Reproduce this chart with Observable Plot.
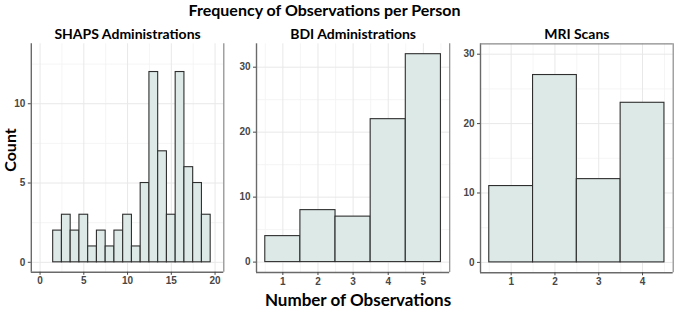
<!DOCTYPE html>
<html>
<head>
<meta charset="utf-8">
<script src="https://cdn.jsdelivr.net/npm/d3@7"></script>
<script src="https://cdn.jsdelivr.net/npm/@observablehq/plot@0.6"></script>
<style>
  body { margin: 0; background: #fff; }
  #chart { position: relative; width: 678px; height: 309px; overflow: hidden; background: #fff; }
  #chart svg { position: absolute; left: 0; top: 0; }
</style>
</head>
<body>
<div id="chart"></div>
<script>
// Number of observations per person (bin centre) and how many people had that many
const shapsObs   = [2, 3, 4, 5, 6, 7, 8, 9, 10, 11, 12, 13, 14, 15, 16, 17, 18, 19];
const shapsCount = [2, 3, 2, 3, 1, 2, 1, 2, 3, 1, 5, 12, 7, 3, 12, 6, 5, 3];

const bdiObs   = [1, 2, 3, 4, 5];
const bdiCount = [4, 8, 7, 22, 32];

const mriObs   = [1, 2, 3, 4];
const mriCount = [11, 27, 12, 23];

// Tick labels per panel
const shapsXTicks = [0, 5, 10, 15, 20];
const shapsYTicks = [0, 5, 10];
const bdiXTicks   = [1, 2, 3, 4, 5];
const bdiYTicks   = [0, 10, 20, 30];
const mriXTicks   = [1, 2, 3, 4];
const mriYTicks   = [0, 10, 20, 30];

const titles = {
  main: "Frequency of Observations per Person",
  shaps: "SHAPS Administrations",
  bdi: "BDI Administrations",
  mri: "MRI Scans",
  x: "Number of Observations",
  y: "Count"
};

const W = 678, H = 309;
const chart = document.getElementById("chart");

// Minor grid positions halfway between major ticks, kept inside the panel
function minorBetween(ticks, lo, hi) {
  const step = ticks[1] - ticks[0];
  const out = [];
  for (let v = ticks[0] - step / 2; v <= ticks[ticks.length - 1] + step / 2; v += step) {
    if (v > lo && v < hi) out.push(v);
  }
  return out;
}

function panel({obs, count, xDomain, yDomain, xTicks, yTicks, left, right, top, bottom, title, boxed}) {
  const data = obs.map((o, i) => ({obs: o, count: count[i]}));
  const axisStyle = {tickSize: 3, tickPadding: 2, fontSize: 10, fontWeight: "bold", fontFamily: "Liberation Sans", fill: "#474747", stroke: "#474747"};
  const marks = [
    Plot.gridY(minorBetween(yTicks, yDomain[0], yDomain[1]), {stroke: "#f2f2f2", strokeOpacity: 1, strokeWidth: 0.8}),
    Plot.gridX(minorBetween(xTicks, xDomain[0], xDomain[1]), {stroke: "#f2f2f2", strokeOpacity: 1, strokeWidth: 0.8}),
    Plot.gridY(yTicks, {stroke: "#e8e8e8", strokeOpacity: 1, strokeWidth: 1}),
    Plot.gridX(xTicks, {stroke: "#e8e8e8", strokeOpacity: 1, strokeWidth: 1}),
    Plot.rectY(data, {x1: d => d.obs - 0.5, x2: d => d.obs + 0.5, y: "count", fill: "#dce9e7", stroke: "#2e2e2e", strokeWidth: 1.1}),
    Plot.ruleX([xDomain[1]], {stroke: "#8a8a8a", strokeWidth: 1.2}),
    Plot.ruleX([xDomain[0]], {stroke: "#6a6a6a", strokeWidth: 1.4}),
    Plot.ruleY([yDomain[0]], {stroke: "#6a6a6a", strokeWidth: 1.4}),
    Plot.axisX(xTicks, {...axisStyle, anchor: "bottom", label: null}),
    Plot.axisY(yTicks, {...axisStyle, anchor: "left", label: null, tickPadding: 3}),
    Plot.text([title], {text: d => d, frameAnchor: "top", dy: -5, lineAnchor: "bottom", fontFamily: "Lato", fontWeight: "bold", fontSize: 14, fill: "#000"})
  ];
  if (boxed) marks.push(Plot.ruleY([yDomain[1]], {stroke: "#8a8a8a", strokeWidth: 1.2}));
  const svg = Plot.plot({
    width: W, height: H,
    marginLeft: left, marginRight: W - right, marginTop: top, marginBottom: H - bottom,
    style: {background: "transparent", overflow: "visible"},
    x: {type: "linear", domain: xDomain},
    y: {type: "linear", domain: yDomain},
    marks
  });
  chart.appendChild(svg);
}

panel({obs: shapsObs, count: shapsCount, xDomain: [-1, 21], yDomain: [-0.63, 13.78],
       xTicks: shapsXTicks, yTicks: shapsYTicks, left: 30.8, right: 223.3, top: 43.3, bottom: 271.8,
       title: titles.shaps, boxed: false});
panel({obs: bdiObs, count: bdiCount, xDomain: [0.25, 5.75], yDomain: [-1.6, 33.6],
       xTicks: bdiXTicks, yTicks: bdiYTicks, left: 256, right: 449.2, top: 43.3, bottom: 272,
       title: titles.bdi, boxed: false});
panel({obs: mriObs, count: mriCount, xDomain: [0.3, 4.7], yDomain: [-1.5, 31.5],
       xTicks: mriXTicks, yTicks: mriYTicks, left: 480, right: 672.7, top: 43.3, bottom: 272.3,
       title: titles.mri, boxed: true});

// Shared titles
const overlay = d3.select(chart).append("svg")
  .attr("width", W).attr("height", H)
  .style("font-family", "Lato").style("font-weight", "bold");
overlay.append("text").attr("x", 324.5).attr("y", 16).attr("text-anchor", "middle")
  .attr("font-size", 16).text(titles.main);
overlay.append("text").attr("x", 358).attr("y", 305.5).attr("text-anchor", "middle")
  .attr("font-size", 17).text(titles.x);
overlay.append("text").attr("transform", "translate(16,150) rotate(-90)").attr("text-anchor", "middle")
  .attr("font-size", 16).text(titles.y);
</script>
</body>
</html>
